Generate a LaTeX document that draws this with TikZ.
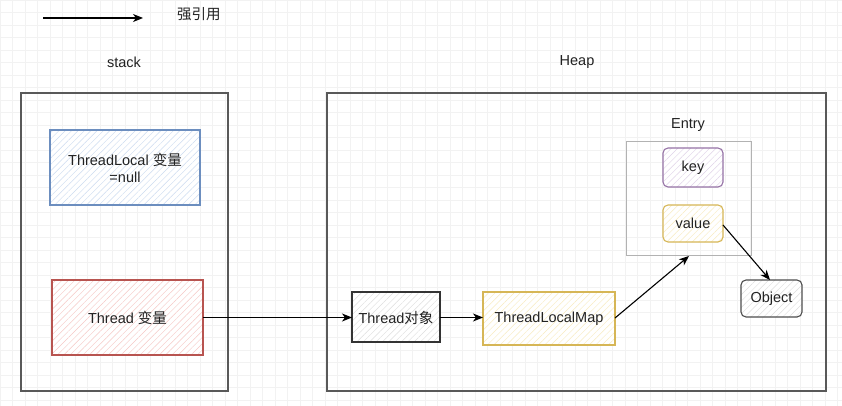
\documentclass[tikz,border=0pt]{standalone}
\usepackage{fontspec}
\setmainfont{Liberation Sans}
\newfontfamily\cjk{Noto Sans CJK SC}
\usetikzlibrary{patterns.meta,arrows.meta}
\definecolor{gridc}{HTML}{F2F2F2}
\definecolor{textc}{HTML}{222222}
\definecolor{blueS}{HTML}{6C8EBF}\definecolor{blueF}{HTML}{CCDBF0}
\definecolor{redS}{HTML}{B85450}\definecolor{redF}{HTML}{F6C8C5}
\definecolor{yelS}{HTML}{D6B656}\definecolor{yelF}{HTML}{F8EBC0}
\definecolor{purS}{HTML}{9673A6}\definecolor{purF}{HTML}{E0D2E8}
\definecolor{grayS}{HTML}{333333}\definecolor{grayF}{HTML}{DDDDDD}
\definecolor{dgrayS}{HTML}{4D4D4D}\definecolor{dgrayF}{HTML}{DDDDDD}
\tikzset{
  every node/.style={font=\fontsize{14.5}{17}\selectfont, inner sep=0pt, text=textc},
  container/.style={draw=black!65, line width=1.3pt},
  hatched/.style={draw=#1S, line width=1.1pt, preaction={fill=white}, pattern={Lines[angle=45,distance=4.5pt,line width=0.45pt]}, pattern color=#1F},
  ref/.style={-{Stealth[length=10pt,width=8pt,inset=3pt]}, line width=1.1pt, black},
}
\begin{document}
\begin{tikzpicture}[x=1pt,y=-1pt]
\useasboundingbox (0,0) rectangle (842,406);
\fill[white] (0,0) rectangle (842,406);
\draw[gridc, line width=0.6pt, step=12.5pt] (0,0) grid (842,406);
% legend
\coordinate (la) at (43,18);
\coordinate (lb) at (143,18);
\draw[ref] (la) -- (lb);
\node[anchor=west] (legend) at (177,14) {\cjk 强引用};
% titles
\node (stackT) at (124,62) {stack};
\node (heapT) at (577,62) {Heap};
% containers
\draw[container] (21,93) rectangle (228,391);
\draw[container] (327,93) rectangle (826,391);
% stack nodes
\path[hatched=blue] (50,130) rectangle (200,205);
\node[align=center] (tl) at (125,167.5) {ThreadLocal {\cjk 变量}\\=null};
\path[hatched=red] (52,280) rectangle (203,355);
\node (tv) at (127.5,317.5) {Thread {\cjk 变量}};
\coordinate (tvR) at (203,317.5);
% heap nodes
\path[hatched=gray] (352,292) rectangle (440,342);
\node (to) at (396,317.5) {Thread{\cjk 对象}};
\coordinate (toL) at (352,317.5);
\coordinate (toR) at (440,317.5);
\path[hatched=yel] (483,292) rectangle (615,345);
\node (tlm) at (549,318.5) {ThreadLocalMap};
\coordinate (tlmL) at (483,317.5);
\coordinate (tlmR) at (615,318);
% entry
\draw[black!30, line width=1pt] (626,142) rectangle (751,255);
\node (entryT) at (688,125) {Entry};
\coordinate (entryB) at (689,256);
\path[hatched=pur, rounded corners=5pt] (663,148) rectangle (723,187);
\node (key) at (693,167.5) {key};
\path[hatched=yel, rounded corners=5pt] (663,205) rectangle (723,242);
\node (value) at (693,223.5) {value};
\coordinate (valueR) at (723,225);
\path[hatched=dgray, rounded corners=5pt] (741,280) rectangle (802,317);
\node (obj) at (771.5,298.5) {Object};
\coordinate (objT) at (770,280);
% arrows
\draw[ref] (tvR) -- (toL);
\draw[ref] (toR) -- (tlmL);
\draw[ref] (tlmR) -- (entryB);
\draw[ref] (valueR) -- (objT);
\end{tikzpicture}
\end{document}
